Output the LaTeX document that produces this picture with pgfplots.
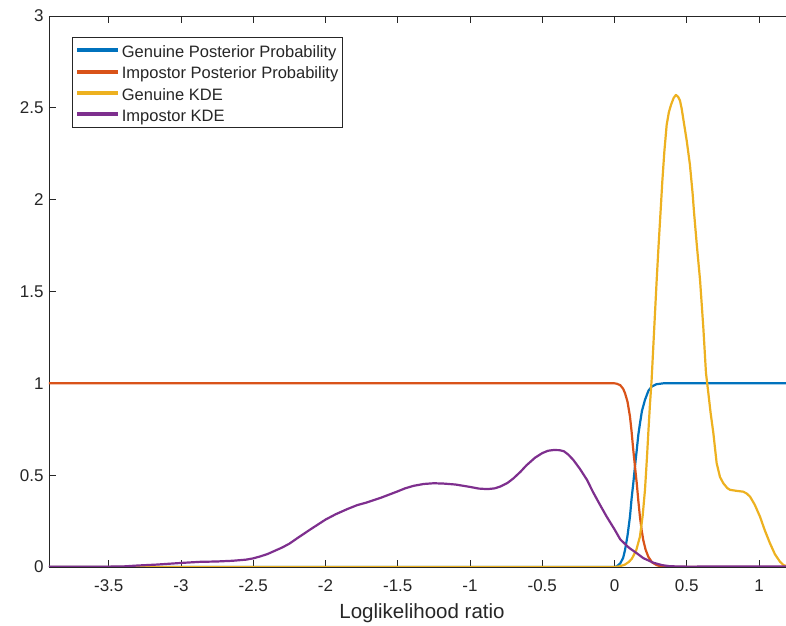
\documentclass[border=0pt]{standalone}
\usepackage{fontspec}
\setmainfont{Liberation Sans}
\usepackage{pgfplots}
\pgfplotsset{compat=1.18}
\definecolor{mblue}{rgb}{0,0.447,0.741}
\definecolor{mred}{rgb}{0.85,0.325,0.098}
\definecolor{myellow}{rgb}{0.929,0.694,0.125}
\definecolor{mpurple}{rgb}{0.494,0.184,0.556}
\definecolor{axgray}{rgb}{0.15,0.15,0.15}
\begin{document}
\begin{tikzpicture}
\begin{axis}[
  scale only axis, width=752pt, height=551pt,
  xmin=-3.9135, xmax=1.2907, ymin=0, ymax=3,
  xtick={-3.5,-3,-2.5,-2,-1.5,-1,-0.5,0,0.5,1},
  xticklabels={-3.5,-3,-2.5,-2,-1.5,-1,-0.5,0,0.5,1},
  ytick={0,0.5,1,1.5,2,2.5,3},
  yticklabels={0,0.5,1,1.5,2,2.5,3},
  tick align=inside, major tick length=7pt, tick pos=both,
  axis line style={axgray, line width=0.9pt},
  tick style={axgray, line width=0.9pt},
  ticklabel style={font=\fontsize{17}{20}\selectfont, text=axgray},
  xticklabel style={yshift=-9pt},
  yticklabel style={xshift=-2pt},
  xlabel={Loglikelihood ratio},
  xlabel style={font=\fontsize{20.5}{24}\selectfont, text=axgray, yshift=-5pt, xshift=-3pt},
  legend cell align=left,
  legend style={at={(0.0306,0.9624)}, anchor=north west, draw=axgray, line width=0.8pt,
    font=\fontsize{16.5}{19}\selectfont, text=axgray, inner xsep=3pt, inner ysep=3.6pt,
    row sep=2.4pt,
    nodes={inner sep=1.5pt, text height=15pt, text depth=1pt}},
  legend image code/.code={\draw[line width=4pt,#1] (0pt,0pt) -- (41pt,0pt);},
  every axis plot/.append style={line width=2.2pt, line join=round},
]
\coordinate (sw) at (rel axis cs:0,0);
\coordinate (ne) at (rel axis cs:1,1);
\addplot[mblue] coordinates {
(-3.9135,0) (0.0,0) (0.015,0.003) (0.04,0.02) (0.06,0.05) (0.073,0.093) (0.09,0.17)
(0.107,0.274) (0.118,0.37) (0.13,0.456) (0.142,0.55) (0.154,0.637) (0.165,0.72)
(0.176,0.78) (0.19,0.85) (0.211,0.91) (0.235,0.96) (0.257,0.982) (0.29,0.995)
(0.338,1.0) (1.29,1.0)};
\addlegendentry{Genuine Posterior Probability}
\addplot[mred] coordinates {
(-3.9135,1) (0.0,1) (0.015,0.998) (0.04,0.99) (0.06,0.97) (0.073,0.946) (0.09,0.90)
(0.107,0.82) (0.118,0.74) (0.13,0.637) (0.142,0.545) (0.154,0.456) (0.165,0.36)
(0.176,0.274) (0.188,0.2) (0.199,0.147) (0.215,0.095) (0.234,0.056) (0.26,0.025)
(0.292,0.01) (0.33,0.002) (0.4,0) (1.29,0)};
\addlegendentry{Impostor Posterior Probability}
\addplot[myellow] coordinates {
(-3.9135,0) (0.0,0) (0.03,0.003) (0.07,0.012) (0.10,0.028) (0.12,0.045) (0.15,0.09)
(0.176,0.165) (0.195,0.28) (0.211,0.42) (0.225,0.6) (0.234,0.73) (0.245,0.88)
(0.257,1.02) (0.275,1.30) (0.292,1.563) (0.305,1.75) (0.32,1.95) (0.331,2.10)
(0.345,2.262) (0.361,2.407) (0.376,2.475) (0.391,2.516) (0.41,2.555) (0.425,2.57)
(0.44,2.56) (0.453,2.54) (0.465,2.495) (0.476,2.44) (0.5,2.32) (0.522,2.19)
(0.541,2.03) (0.55,1.935) (0.57,1.75) (0.592,1.563) (0.615,1.30)
(0.633,1.057) (0.649,0.95) (0.665,0.84) (0.684,0.73) (0.707,0.565) (0.73,0.49) (0.753,0.456)
(0.78,0.43) (0.80,0.42) (0.85,0.414) (0.891,0.41) (0.915,0.40) (0.938,0.383)
(0.97,0.34) (1.007,0.274) (1.04,0.2) (1.076,0.129) (1.11,0.07) (1.145,0.029)
(1.17,0.01) (1.2,0.003) (1.29,0.001)};
\addlegendentry{Genuine KDE}
\addplot[mpurple] coordinates {
(-3.9135,0.001) (-3.6,0.001) (-3.4,0.003) (-3.3,0.008) (-3.17,0.013) (-3.0,0.022)
(-2.87,0.028) (-2.75,0.030) (-2.64,0.034) (-2.55,0.040) (-2.5,0.047) (-2.45,0.058)
(-2.4,0.071) (-2.34,0.092) (-2.3,0.106) (-2.25,0.127) (-2.18,0.165) (-2.1,0.207)
(-2.0,0.258) (-1.93,0.287) (-1.85,0.315) (-1.78,0.337) (-1.72,0.350) (-1.62,0.376)
(-1.55,0.397) (-1.5,0.412) (-1.45,0.428) (-1.39,0.442) (-1.32,0.452) (-1.25,0.456)
(-1.18,0.454) (-1.1,0.449) (-1.0,0.436) (-0.94,0.427) (-0.88,0.424) (-0.83,0.428)
(-0.79,0.438) (-0.74,0.458) (-0.70,0.482) (-0.65,0.519) (-0.61,0.553) (-0.55,0.595)
(-0.50,0.620) (-0.46,0.633) (-0.42,0.637) (-0.38,0.636) (-0.35,0.630) (-0.32,0.612)
(-0.285,0.583) (-0.24,0.535) (-0.19,0.474) (-0.15,0.41) (-0.1,0.338) (-0.054,0.274)
(0.0,0.205) (0.04,0.150) (0.1,0.105) (0.154,0.075) (0.2,0.048) (0.27,0.023)
(0.33,0.01) (0.385,0.004) (0.5,0.002) (1.0,0.003) (1.29,0.002)};
\addlegendentry{Impostor KDE}
\end{axis}
\pgfresetboundingbox
\path[use as bounding box] ([shift={(-49pt,-59pt)}]sw) rectangle ([shift={(-15pt,16pt)}]ne);
\end{tikzpicture}
\end{document}
